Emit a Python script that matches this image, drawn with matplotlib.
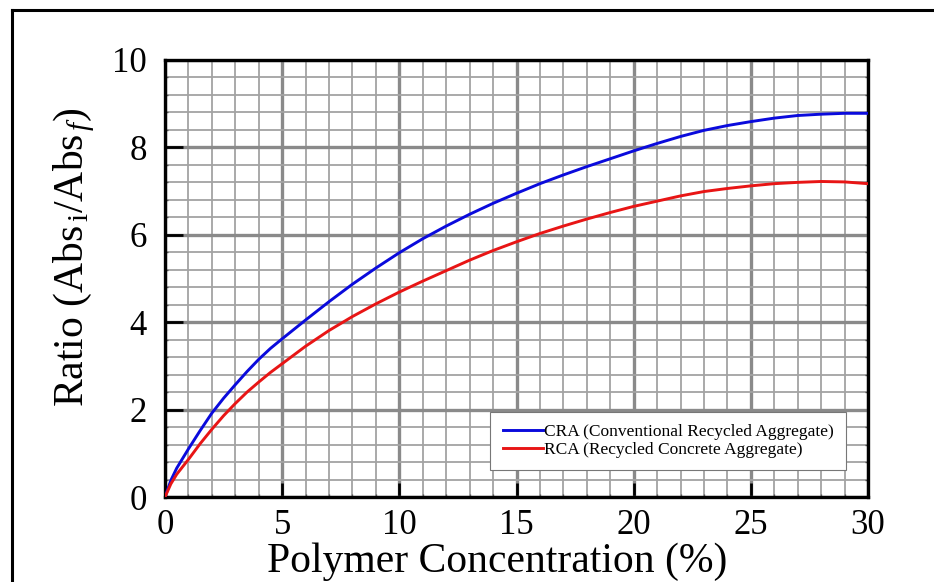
import numpy as np
import matplotlib
matplotlib.use("Agg")
import matplotlib.pyplot as plt
from matplotlib.lines import Line2D

plt.rcParams['font.family'] = ['Liberation Serif', 'DejaVu Serif']
plt.rcParams['mathtext.fontset'] = 'custom'
plt.rcParams['mathtext.rm'] = 'Liberation Serif'
plt.rcParams['mathtext.it'] = 'Liberation Serif:italic'

# Data
conc = [0, 0.25, 0.5, 1, 1.5, 2, 2.5, 3, 3.5, 4, 4.5, 5, 6, 7, 8, 9, 10, 11,
        12, 13, 14, 15, 16, 17, 18, 19, 20, 21, 22, 23, 24, 25, 26, 27, 28,
        29, 30]
cra = [0.0, 0.38, 0.66, 1.10, 1.52, 1.92, 2.26, 2.57, 2.87, 3.15, 3.40, 3.62,
       4.05, 4.47, 4.87, 5.24, 5.59, 5.91, 6.20, 6.47, 6.72, 6.95, 7.17, 7.37,
       7.56, 7.74, 7.92, 8.09, 8.25, 8.39, 8.50, 8.59, 8.67, 8.73, 8.76, 8.78,
       8.78]
rca = [0.0, 0.30, 0.52, 0.86, 1.22, 1.55, 1.86, 2.14, 2.40, 2.63, 2.85, 3.05,
       3.45, 3.81, 4.13, 4.42, 4.69, 4.94, 5.18, 5.42, 5.64, 5.84, 6.03, 6.20,
       6.36, 6.51, 6.65, 6.77, 6.89, 6.99, 7.06, 7.12, 7.17, 7.20, 7.22, 7.21,
       7.17]
labels = ['CRA (Conventional Recycled Aggregate)',
          'RCA (Recycled Concrete Aggregate)']
xticks = [0, 5, 10, 15, 20, 25, 30]
yticks = [0, 2, 4, 6, 8, 10]

fig = plt.figure(figsize=(9.34, 5.82), dpi=100)
ax = fig.add_axes([165/934, 1-497/582, (868-165)/934, (497-60)/582])

ax.plot(conc, cra, color='#0a0adc', lw=2.1, label=labels[0], zorder=3,
        solid_joinstyle='round')
ax.plot(conc, rca, color='#e81515', lw=2.1, label=labels[1], zorder=3,
        solid_joinstyle='round')

ax.set_xlim(0, 30)
ax.set_ylim(0, 10)
ax.set_xticks(xticks)
ax.set_yticks(yticks)
ax.set_xticks(np.arange(0, 30.01, 1), minor=True)
ax.set_yticks(np.arange(0, 10.01, 0.4), minor=True)
ax.grid(which='minor', color='#a3a3a3', lw=1.3, zorder=0)
ax.grid(which='major', color='#8a8a8a', lw=2.4, zorder=0)
ax.set_axisbelow(True)

ax.tick_params(which='major', direction='in', color='black', width=2.0,
               labelsize=25)
ax.tick_params(axis='x', which='major', length=10, pad=9)
ax.tick_params(axis='y', which='major', length=13, pad=13)
ax.tick_params(which='minor', direction='in', length=2, width=1,
               color='#555555', right=True, left=True)

for s in ax.spines.values():
    s.set_linewidth(2.4)
    s.set_color('black')

ax.set_xlabel('Polymer Concentration (%)', fontsize=30)
ax.xaxis.set_label_coords(0.472, -0.103)
ax.xaxis.label.set_va('top')
ax.set_ylabel(r'Ratio (Abs$_{\,\mathrm{i}}$/Abs$_{\,\mathit{f}}$)',
              fontsize=30)
ax.yaxis.set_label_coords(-0.097, 0.55)

leg = ax.legend(loc='lower right', bbox_to_anchor=(0.969, 0.062),
                borderaxespad=0, fontsize=12.5, frameon=True, fancybox=False,
                framealpha=1, edgecolor='#777777', handlelength=2.3,
                handletextpad=0.1, borderpad=0.7, labelspacing=0.1)
leg.get_frame().set_linewidth(0.8)

# outer frame lines (left and top)
fig.add_artist(Line2D([12/934, 12/934], [0, 1-10/582], color='black', lw=2.2))
fig.add_artist(Line2D([12/934, 1], [1-10/582, 1-10/582], color='black', lw=2.2))

fig.savefig('out.png', dpi=100)
